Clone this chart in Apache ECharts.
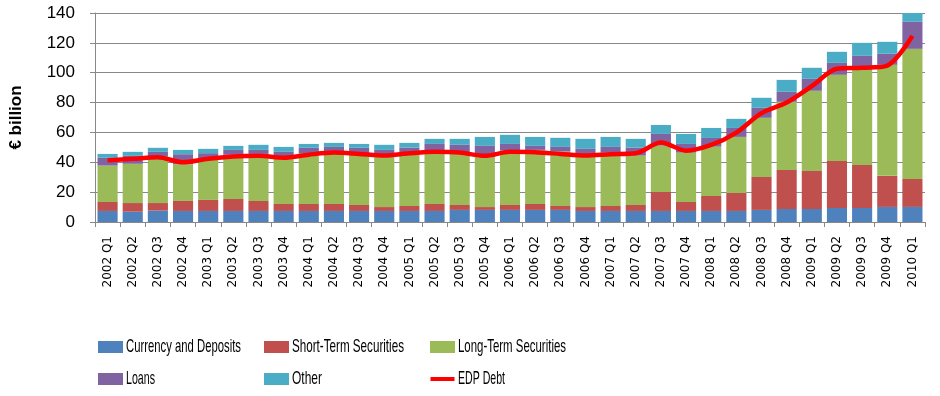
<!DOCTYPE html>
<html><head><meta charset="utf-8">
<script src="https://cdn.jsdelivr.net/npm/echarts@6/dist/echarts.min.js"></script>
<style>html,body{margin:0;padding:0;background:#fff}#c{width:940px;height:396px}</style>
</head><body><div id="c"></div>
<script>
const categories = ["2002 Q1","2002 Q2","2002 Q3","2002 Q4","2003 Q1","2003 Q2","2003 Q3","2003 Q4","2004 Q1","2004 Q2","2004 Q3","2004 Q4","2005 Q1","2005 Q2","2005 Q3","2005 Q4","2006 Q1","2006 Q2","2006 Q3","2006 Q4","2007 Q1","2007 Q2","2007 Q3","2007 Q4","2008 Q1","2008 Q2","2008 Q3","2008 Q4","2009 Q1","2009 Q2","2009 Q3","2009 Q4","2010 Q1"];
const currencyDeposits = [7.4,6.9,7.6,7.4,7.4,7.4,7.4,7.4,7.4,7.4,7.4,7.4,7.4,7.4,8.1,8.1,8.1,8.1,8.1,7.4,7.4,7.4,7.4,7.4,7.4,7.4,8.1,8.7,8.7,9.4,9.4,10.1,10.1];
const shortTermSecurities = [6.0,5.8,5.1,6.7,7.4,8.0,6.7,4.7,4.7,4.7,4.0,2.6,3.3,4.7,3.3,1.9,3.3,4.0,2.6,2.6,3.3,4.0,12.7,6.0,10.0,12.1,22.1,26.2,25.5,31.5,28.8,20.8,18.7];
const longTermSecurities = [24.4,26.3,31.1,24.6,26.8,29.6,31.5,31.7,33.9,34.4,34.2,35.0,35.3,34.4,35.1,33.8,36.6,36.2,36.5,35.0,35.8,33.1,31.1,33.1,33.1,37.5,39.6,45.6,53.7,57.7,63.7,74.4,87.2];
const loans = [5.2,5.3,3.2,6.7,4.5,3.3,2.7,3.2,3.7,3.8,4.1,3.3,3.9,5.8,5.2,7.2,4.3,2.7,3.1,4.0,3.8,5.4,7.8,5.8,5.8,6.0,6.7,6.7,8.0,8.0,9.4,7.4,18.1];
const other = [2.6,2.7,2.7,2.9,2.9,2.7,3.4,3.3,2.6,2.7,2.6,3.4,3.1,3.4,4.0,6.0,6.1,6.0,6.1,6.7,6.7,5.8,6.0,6.7,6.7,6.1,6.7,8.0,7.4,7.4,8.7,8.0,7.4];
const edpDebt = [41.4,42.3,43.4,40.0,42.3,43.8,44.3,43.1,45.1,46.5,45.6,44.5,46.0,47.0,46.5,44.3,47.0,46.7,45.6,44.5,45.4,46.0,53.2,47.8,51.6,59.9,72.9,80.0,91.0,102.6,103.3,104.8,124.7];
const yTicks = [0,20,40,60,80,100,120,140];

const names = ["Currency and Deposits","Short-Term Securities","Long-Term Securities","Loans","Other","EDP Debt"];
const colors = ["#4F81BD","#C0504D","#9BBB59","#8064A2","#4BACC6","#FF0000"];
const barData = [currencyDeposits, shortTermSecurities, longTermSecurities, loans, other];

const chart = echarts.init(document.getElementById('c'), null, {renderer:'canvas'});

// legend layout (icons via legend component, narrow labels via scaled graphic text)
const legPos = [[98,341],[264,341],[430,341],[98,373],[264,373],[430,373]];
const labelWidths = [115,112,108,29,30,47];
const legFontSize = 19, legFontFamily = 'Liberation Sans';
const mctx = document.createElement('canvas').getContext('2d');
mctx.font = legFontSize + 'px "' + legFontFamily + '"';
const legends = names.map((n,i)=>({
  data:[i===5?{name:n,icon:'path://M0,0 L24,0 L24,4 L0,4 Z'}:{name:n,icon:'rect'}],
  left:legPos[i][0], top:i===5?legPos[i][1]+4:legPos[i][1], padding:0,
  itemWidth:25, itemHeight:i===5?4:12, itemGap:0,
  formatter:()=>'', textStyle:{fontSize:1}, selectedMode:false
}));
const legendTexts = names.map((n,i)=>{
  const w = mctx.measureText(n).width;
  return {type:'text', x:legPos[i][0]+28, y:legPos[i][1]+6, scaleX:labelWidths[i]/w, scaleY:1,
    style:{text:n, fontSize:legFontSize, fontFamily:legFontFamily, fill:'#000', verticalAlign:'middle', align:'left'}, silent:true};
});

const series = barData.map((d,i)=>({
  name:names[i], type:'bar', stack:'total', data:d, barCategoryGap:'20%',
  itemStyle:{color:colors[i]}, emphasis:{disabled:true}
}));
series.push({
  name:'EDP Debt', type:'line', data:edpDebt, smooth:0.3, symbol:'none',
  lineStyle:{color:'#FF0000', width:4.5}, itemStyle:{color:'#FF0000'}, z:5
});
chart.setOption({
  animation:false,
  grid:{left:92, right:15, top:13, bottom:174, containLabel:false},
  legend:legends,
  graphic:legendTexts,
  xAxis:{type:'category', data:categories, boundaryGap:true,
    axisLine:{lineStyle:{color:'#888'}},
    axisTick:{show:true, alignWithLabel:false, length:5, lineStyle:{color:'#888'}},
    axisLabel:{rotate:90, interval:0, margin:14, fontFamily:'DejaVu Sans', fontSize:12, color:'#000'}
  },
  yAxis:{type:'value', min:0, max:140, interval:20,
    name:'€ billion', nameLocation:'middle', nameGap:70, nameRotate:90,
    nameTextStyle:{fontFamily:'Liberation Sans, sans-serif', fontWeight:'bold', fontSize:17, color:'#000'},
    axisLine:{show:true, lineStyle:{color:'#888'}},
    axisTick:{show:true, length:5, lineStyle:{color:'#888'}},
    splitLine:{lineStyle:{color:'#888', width:1}},
    axisLabel:{fontFamily:'Liberation Sans, sans-serif', fontSize:17, color:'#000', margin:20,
      formatter:v=>yTicks.includes(v)?String(v):''}
  },
  series:series
});
</script></body></html>
